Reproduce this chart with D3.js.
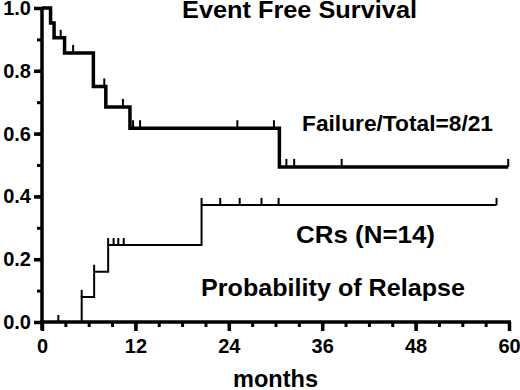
<!DOCTYPE html>
<html><head><meta charset="utf-8">
<script src="https://cdn.jsdelivr.net/npm/d3@7"></script>
<style>body{margin:0;background:#fff}svg{display:block}text{font-family:"Liberation Sans",Arial,sans-serif;font-weight:bold;fill:#000}</style>
</head><body><svg id="c" width="520" height="390"></svg>
<script>
// Event free survival (Kaplan-Meier steps)
const efsTimes = [0, 1.1, 1.55, 2.9, 6.6, 8.2, 11.3, 30.5];
const efsSurv  = [1.0, 0.952, 0.905, 0.857, 0.75, 0.685, 0.617, 0.494];
const efsEnd = 59.9;
const efsCensor = [2.4, 4.0, 8.0, 10.4, 11.7, 12.6, 25.1, 29.8, 31.4, 32.4, 38.5, 59.9];
// Probability of relapse (cumulative)
const relTimes = [0, 5.1, 6.7, 8.5, 20.5];
const relProb  = [0, 0.08, 0.16, 0.245, 0.373];
const relEnd = 58.4;
const relCensor = [2.1, 5.1, 6.7, 8.5, 9.2, 9.8, 10.5, 20.5, 22.9, 25.4, 28.2, 30.4, 58.4];
const xTicks = [0, 12, 24, 36, 48, 60];
const yTicks = [0.0, 0.2, 0.4, 0.6, 0.8, 1.0];
const labels = {title: "Event Free Survival", failure: "Failure/Total=8/21", crs: "CRs (N=14)", relapse: "Probability of Relapse", xlab: "months"};

const svg = d3.select("#c");
const x = d3.scaleLinear().domain([0, 60]).range([42, 509]);
const y = d3.scaleLinear().domain([0, 1]).range([322, 8]);

function stepVal(times, vals, t){ let v = vals[0]; for (let i=0;i<times.length;i++) if (times[i] <= t) v = vals[i]; return v; }
function stepPts(times, vals, end){
  const pts = [];
  for (let i=0;i<times.length;i++){
    if (i>0) pts.push([times[i], vals[i-1]]);
    pts.push([times[i], vals[i]]);
  }
  pts.push([end, vals[vals.length-1]]);
  return pts;
}
const line = d3.line().x(d=>x(d[0])).y(d=>y(d[1]));

// Relapse curve
svg.append("path").attr("d", line(stepPts(relTimes, relProb, relEnd)))
  .attr("fill","none").attr("stroke","#000").attr("stroke-width",2);
svg.selectAll(".rc").data(relCensor).join("line")
  .attr("x1",d=>x(d)).attr("x2",d=>x(d))
  .attr("y1",d=>y(stepVal(relTimes, relProb, d))).attr("y2",d=>y(stepVal(relTimes, relProb, d))-7)
  .attr("stroke","#000").attr("stroke-width",2);

// EFS curve
svg.append("path").attr("d", line(stepPts(efsTimes, efsSurv, efsEnd)))
  .attr("fill","none").attr("stroke","#000").attr("stroke-width",3.5);
svg.selectAll(".ec").data(efsCensor).join("line")
  .attr("x1",d=>x(d)).attr("x2",d=>x(d))
  .attr("y1",d=>y(stepVal(efsTimes, efsSurv, d))).attr("y2",d=>y(stepVal(efsTimes, efsSurv, d))-8)
  .attr("stroke","#000").attr("stroke-width",2);

// X axis
const xAxisMinor = d3.axisBottom(x).tickValues(d3.range(0, 61, 3)).tickSize(5).tickFormat("");
const gxm = svg.append("g").attr("transform","translate(0,322)").call(xAxisMinor);
gxm.selectAll("line").attr("stroke","#000").attr("stroke-width",3);
gxm.select(".domain").remove();
const xAxis = d3.axisBottom(x).tickValues(xTicks).tickSize(9).tickPadding(8).tickFormat(d3.format("d"));
const gx = svg.append("g").attr("transform","translate(0,322)").call(xAxis);
gx.select(".domain").attr("d", `M${x(0)-2},0H${x(60)+2}`).attr("stroke","#000").attr("stroke-width",3.5);
gx.selectAll("line").attr("stroke","#000").attr("stroke-width",3.5);
gx.selectAll("text").style("font-size","20px").style("font-family",'"Liberation Sans",Arial,sans-serif').style("font-weight","bold").attr("fill","#000");

// Y axis
const yAxisMinor = d3.axisLeft(y).tickValues(d3.range(0, 1.01, 0.1)).tickSize(5).tickFormat("");
const gym = svg.append("g").attr("transform","translate(42,0)").call(yAxisMinor);
gym.selectAll("line").attr("stroke","#000").attr("stroke-width",3);
gym.select(".domain").remove();
const yAxis = d3.axisLeft(y).tickValues(yTicks).tickSize(8).tickPadding(3).tickFormat(d3.format(".1f"));
const gy = svg.append("g").attr("transform","translate(42,0)").call(yAxis);
gy.select(".domain").attr("d", `M0,${y(1)-1}V${y(0)+8}`).attr("stroke","#000").attr("stroke-width",3.5);
gy.selectAll("line").attr("stroke","#000").attr("stroke-width",3.5);
gy.selectAll("text").style("font-size","20px").style("font-family",'"Liberation Sans",Arial,sans-serif').style("font-weight","bold").attr("fill","#000");

// Labels
function lab(t, xx, yy, fs, len, anchor){
  return svg.append("text").attr("x",xx).attr("y",yy).attr("text-anchor",anchor||"start")
    .style("font-size",fs+"px").attr("textLength",len).attr("lengthAdjust","spacingAndGlyphs").text(t);
}
lab(labels.title, 299.5, 18, 24, 235, "middle");
lab(labels.failure, 302, 131, 22, 191);
lab(labels.crs, 296, 243, 24, 139);
lab(labels.relapse, 201, 296, 24, 264);
lab(labels.xlab, 275.5, 387, 23, 85, "middle");
</script></body></html>
